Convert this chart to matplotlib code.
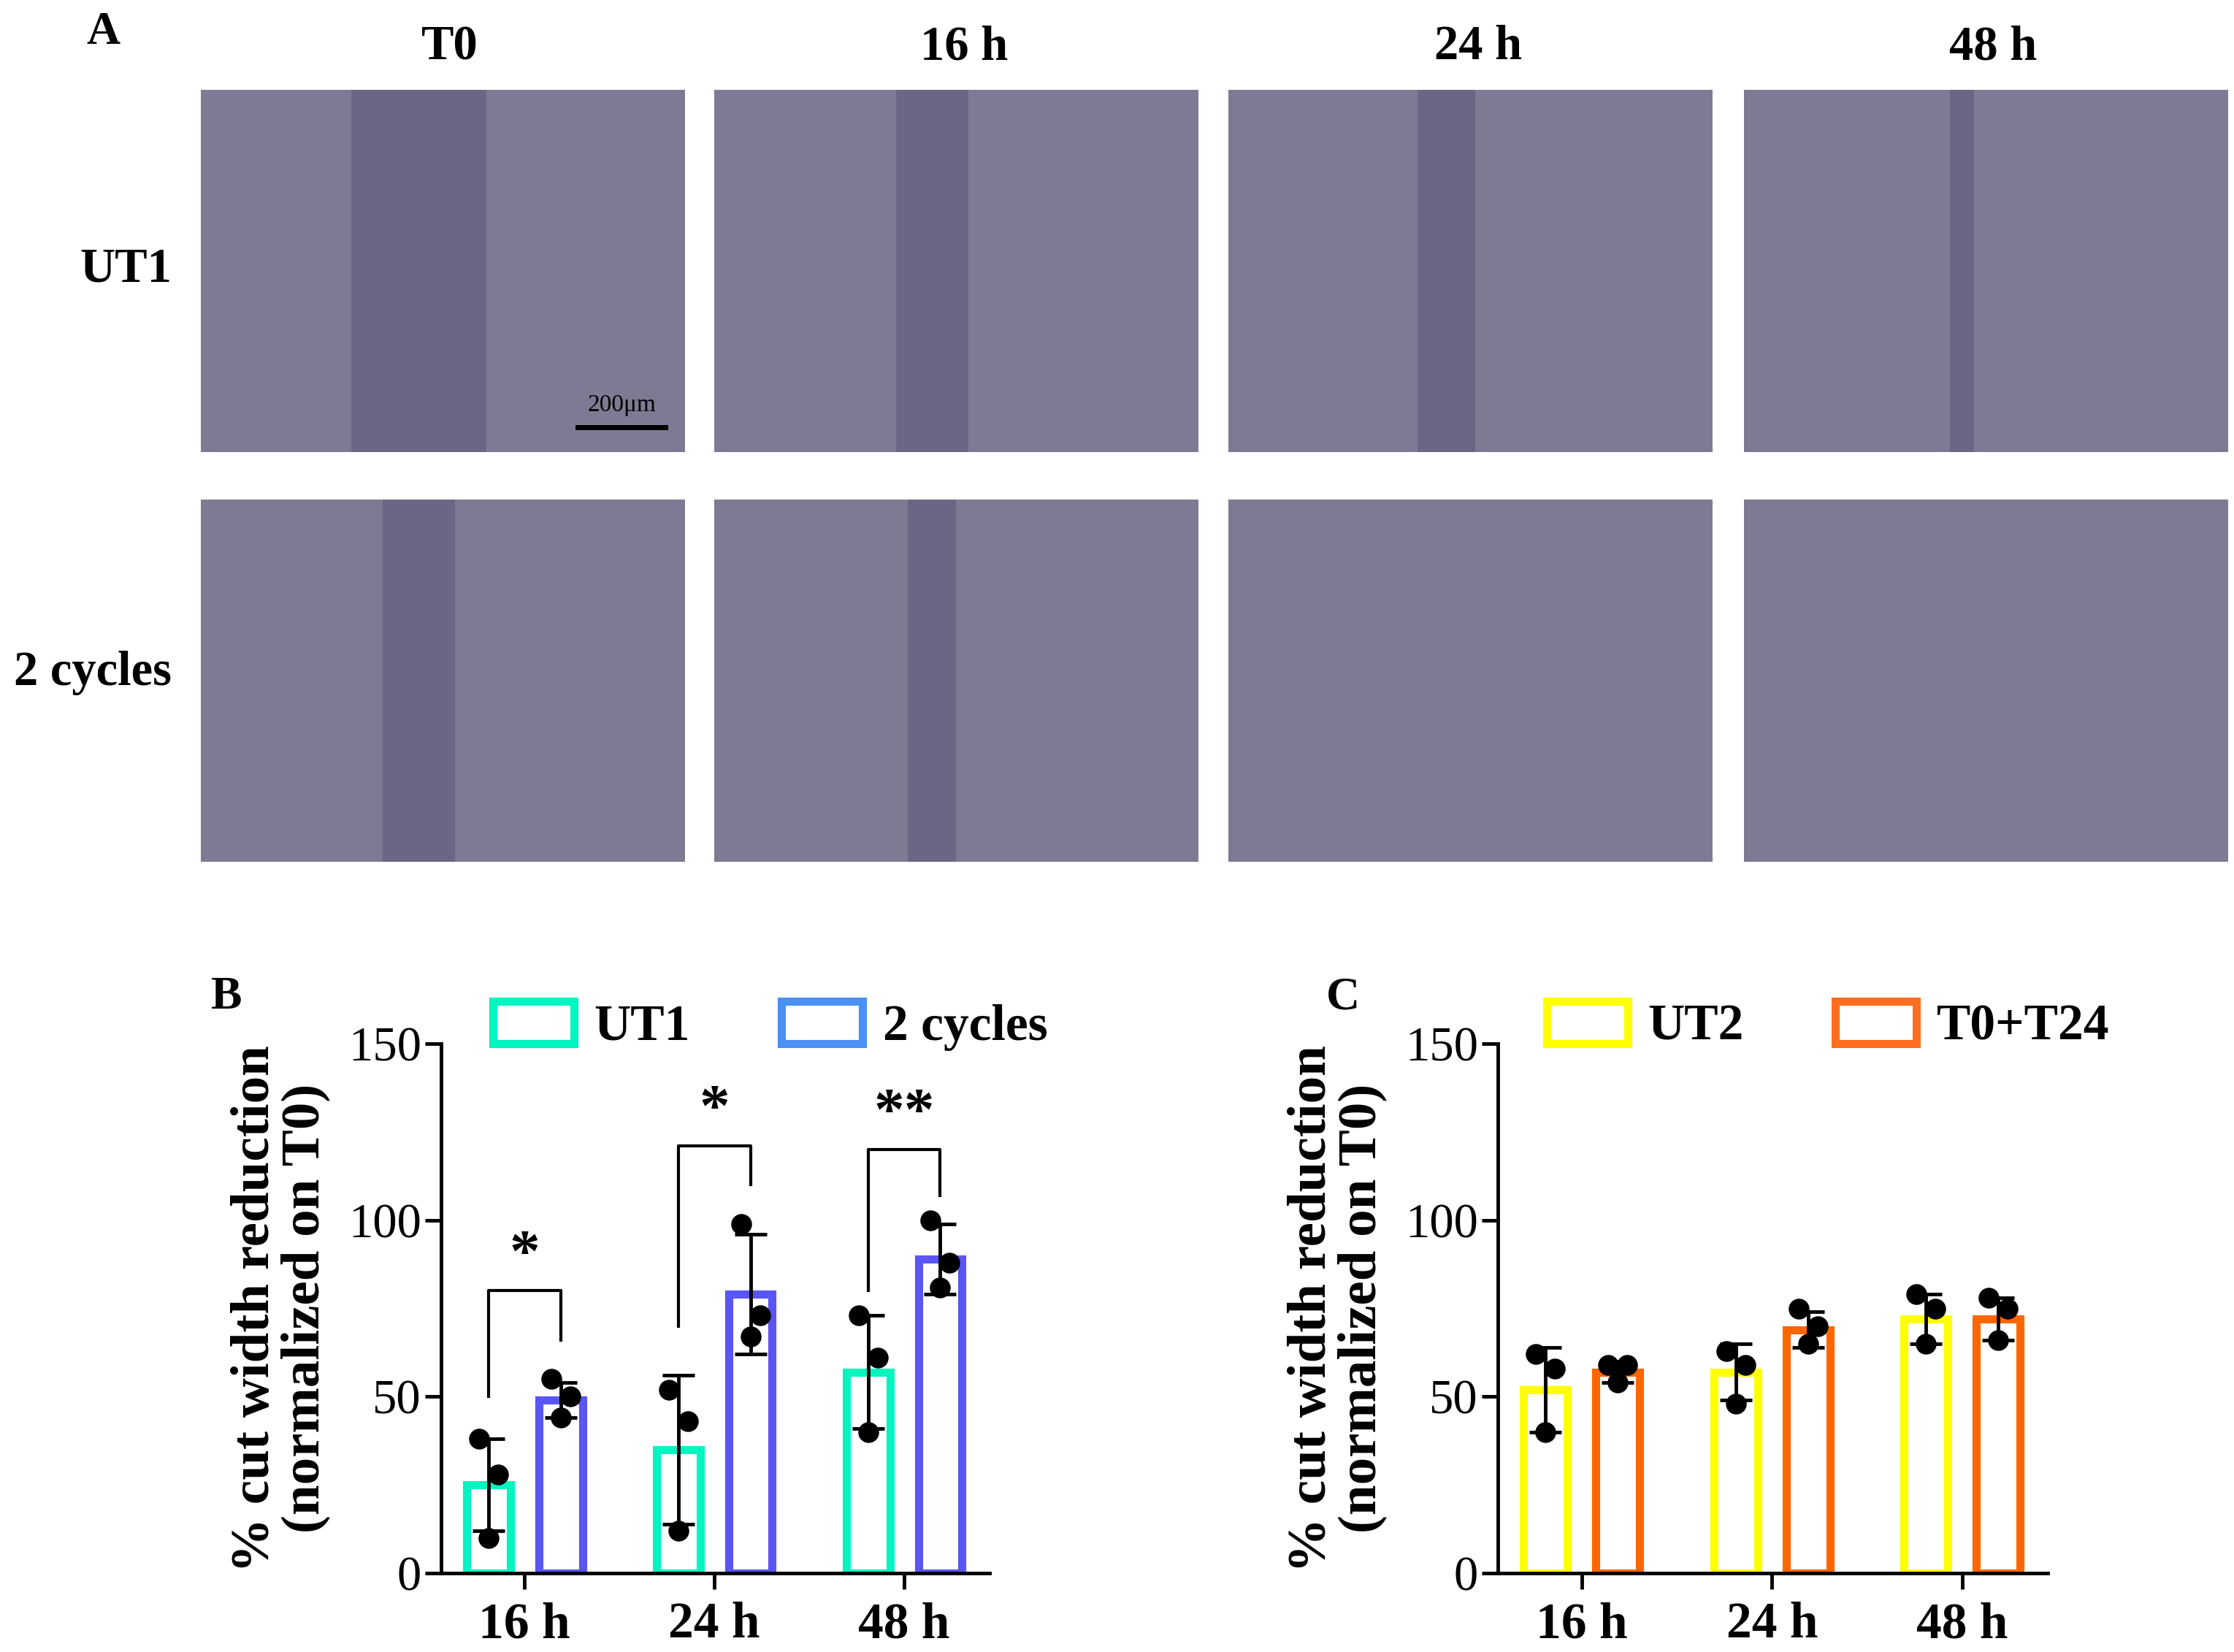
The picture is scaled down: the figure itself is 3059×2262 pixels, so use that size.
import matplotlib
matplotlib.use("Agg")
import matplotlib.pyplot as plt
import numpy as np
from matplotlib.patches import Patch

plt.rcParams['font.family'] = 'Liberation Serif'

time_labels = ["16 h", "24 h", "48 h"]
col_titles = ["T0", "16 h", "24 h", "48 h"]
row_titles = ["UT1", "2 cycles"]

ut1_mean = [25, 35, 57]
ut1_sd = [13, 21, 16]
ut1_pts = [[38, 28, 10], [52, 43, 12], [73, 61, 40]]
cyc_mean = [49, 79, 89]
cyc_sd = [5, 17, 10]
cyc_pts = [[55, 50, 44], [99, 73, 67], [100, 88, 81]]

ut2_mean = [52, 57, 72]
ut2_sd = [12, 8, 7]
ut2_pts = [[62, 58, 40], [63, 59, 48], [79, 75, 65]]
t024_mean = [57, 69, 72]
t024_sd = [3, 5, 6]
t024_pts = [[59, 59, 54], [75, 70, 65], [78, 75, 66]]

# significance brackets: (left leg bottom, right leg bottom, top, label)
sig_b = [(50, 66, 80, "*"), (70, 110, 121, "*"), (80, 107, 120, "**")]

# relative gap width of the scratch in the micrographs (0 = closed)
gap_width = [[0.28, 0.15, 0.12, 0.05], [0.15, 0.10, 0.0, 0.0]]

W, H = 1560, 1154
fig = plt.figure(figsize=(30.59, 22.62), dpi=100)

def fx(x): return x / W
def fy(y): return 1 - y / H

xs = [140, 499, 858, 1218]
ys = [63, 349]
iw, ih = 338, 253
for r in range(2):
    for c in range(4):
        ax = fig.add_axes([fx(xs[c]), fy(ys[r] + ih), fx(iw), ih / H])
        n = 200
        xx = np.linspace(0, 1, n)
        base = np.array([0.50, 0.48, 0.58])
        gapc = np.array([0.42, 0.40, 0.52])
        g = gap_width[r][c]
        m = (np.abs(xx - 0.45) < g / 2).astype(float)
        img = base[None, None, :] * (1 - m[None, :, None]) + gapc[None, None, :] * m[None, :, None]
        img = np.repeat(img, 50, axis=0)
        ax.imshow(img, aspect='auto', extent=[0, 1, 0, 1])
        ax.set_xticks([]); ax.set_yticks([])
        for s in ax.spines.values():
            s.set_visible(False)
        if r == 0 and c == 0:
            ax.plot([0.78, 0.96], [0.07, 0.07], color='black', lw=5)
            ax.text(0.87, 0.10, "200μm", ha='center', va='bottom', fontsize=24)

for c, t in enumerate(col_titles):
    fig.text(fx(xs[c] + iw / 2 + 5), fy(33), t, ha='center', va='center', fontsize=48, fontweight='bold')
fig.text(fx(88), fy(188), row_titles[0], ha='center', va='center', fontsize=48, fontweight='bold')
fig.text(fx(65), fy(470), row_titles[1], ha='center', va='center', fontsize=48, fontweight='bold')
fig.text(fx(72), fy(23), "A", ha='center', va='center', fontsize=46, fontweight='bold')

OFFS = [-0.05, 0.05, 0.0]

def bar_panel(left, right, means1, sd1, pts1, means2, sd2, pts2, c1, c2, edge1, edge2, labs, letter, letter_x, sig=None):
    ax = fig.add_axes([fx(left), fy(1099), fx(right - left), (1099 - 729) / H])
    x = np.arange(3)
    bw = 0.23
    off = 0.19
    for sign, means, sds, pts, col in [(-1, means1, sd1, pts1, c1), (1, means2, sd2, pts2, c2)]:
        for xi, (m, s, p) in enumerate(zip(means, sds, pts)):
            cx = xi + sign * off
            ax.bar(cx, m, bw, facecolor='none', edgecolor=col, lw=8)
            ax.errorbar(cx, m, yerr=s, color='black', capsize=16, lw=3.5, capthick=3.5)
            ax.scatter([cx + o for o in OFFS], p, s=380, color='black', zorder=5)
    ax.set_ylim(0, 150)
    ax.set_xlim(-0.44, 2.45)
    ax.set_yticks([0, 50, 100, 150])
    ax.set_xticks(x)
    ax.set_xticklabels(time_labels, fontsize=50, fontweight='bold')
    ax.tick_params(axis='y', labelsize=48, width=3.5, length=16)
    ax.tick_params(axis='x', width=3.5, length=16, pad=12)
    ax.spines['top'].set_visible(False)
    ax.spines['right'].set_visible(False)
    ax.spines['left'].set_linewidth(3.5)
    ax.spines['bottom'].set_linewidth(3.5)
    ax.set_ylabel("% cut width reduction\n(normalized on T0)", fontsize=54, fontweight='bold', labelpad=18, linespacing=1.0)
    if sig:
        for xi, (y1, y2, ytop, txt) in enumerate(sig):
            ax.plot([xi - off, xi - off, xi + off, xi + off], [y1, ytop, ytop, y2], color='black', lw=3)
            ax.text(xi, ytop + 2, txt, ha='center', va='bottom', fontsize=60, fontweight='bold')
    h = [Patch(facecolor='none', edgecolor=edge1, lw=8), Patch(facecolor='none', edgecolor=edge2, lw=8)]
    ax.legend(h, labs, loc='lower center', bbox_to_anchor=(0.6, 0.9), ncol=2, frameon=False,
              prop={'size': 50, 'weight': 'bold'}, handlelength=1.6, handleheight=0.9,
              handletextpad=0.4, columnspacing=1.8)
    fig.text(fx(letter_x), fy(697), letter, ha='center', va='center', fontsize=46, fontweight='bold')

bar_panel(308, 691, ut1_mean, ut1_sd, ut1_pts, cyc_mean, cyc_sd, cyc_pts,
          '#00f5c0', '#5a55f5', '#00f5c0', '#4a90f5', ["UT1", "2 cycles"], "B", 158, sig=sig_b)
bar_panel(1046, 1430, ut2_mean, ut2_sd, ut2_pts, t024_mean, t024_sd, t024_pts,
          '#ffff00', '#ff6600', '#ffff00', '#ff6e20', ["UT2", "T0+T24"], "C", 938)

fig.savefig("out.png", dpi=100)
